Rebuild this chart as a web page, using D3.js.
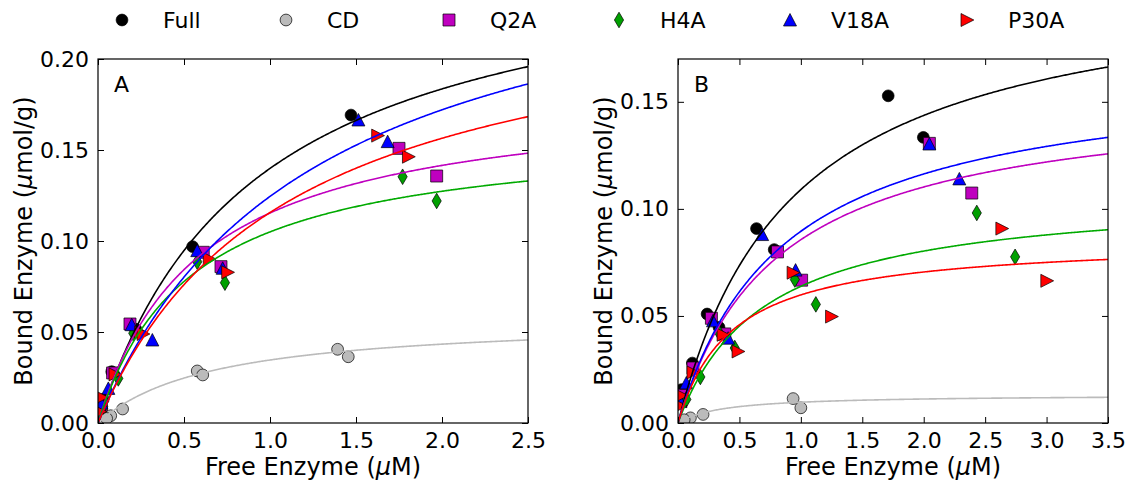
<!DOCTYPE html>
<html><head><meta charset="utf-8">
<script src="https://cdn.jsdelivr.net/npm/d3@7"></script>
<style>body{margin:0;background:#fff}svg{display:block;font-family:"DejaVu Sans",sans-serif}</style>
</head><body><svg id="c" width="1127" height="482"></svg>
<script>
const seriesNames = ["Full","CD","Q2A","H4A","V18A","P30A"];
const seriesColors = ["#000000","#bbbbbb","#bf00bf","#00a000","#0000ff","#ff0000"];
const lineColors = ["#000000","#bbbbbb","#bf00bf","#00aa00","#0000ff","#ff0000"];
const seriesShapes = ["circle","circle","square","diamond","triUp","triRight"];

// Panel A data
const A_Full_x = [1.471,0.550,0.080,0.220,0.030,0.010];
const A_Full_y = [0.1692,0.0969,0.0282,0.0515,0.0130,0.0050];
const A_CD_x = [1.393,1.455,0.577,0.609,0.143,0.074,0.050];
const A_CD_y = [0.0405,0.0364,0.0286,0.0264,0.0077,0.0040,0.0025];
const A_Q2A_x = [1.750,1.969,0.715,0.612,0.186,0.085,0.020];
const A_Q2A_y = [0.1509,0.1357,0.0859,0.0938,0.0544,0.0275,0.0100];
const A_H4A_x = [1.771,1.969,0.738,0.577,0.205,0.118,0.030];
const A_H4A_y = [0.1353,0.1220,0.0771,0.0886,0.0493,0.0245,0.0090];
const A_V18A_x = [1.514,1.684,0.577,0.725,0.196,0.316,0.060,0.020];
const A_V18A_y = [0.1665,0.1546,0.0947,0.0850,0.0540,0.0456,0.0190,0.0110];
const A_P30A_x = [1.626,1.805,0.647,0.754,0.248,0.262,0.099,0.021,0.012];
const A_P30A_y = [0.1579,0.1463,0.0901,0.0828,0.0498,0.0489,0.0267,0.0141,0.0062];
const A_Bmax = [0.267,0.0579,0.183,0.1617,0.2785,0.2417];
const A_Kd = [0.909,0.673,0.586,0.540,1.237,1.090];

// Panel B data
const B_Full_x = [1.711,1.997,0.639,0.783,0.237,0.334,0.117,0.030];
const B_Full_y = [0.1528,0.1334,0.0908,0.0810,0.0509,0.0447,0.0280,0.0156];
const B_CD_x = [0.937,1.000,0.204,0.101,0.050];
const B_CD_y = [0.0114,0.0071,0.0040,0.0024,0.0015];
const B_Q2A_x = [2.046,2.391,0.810,1.006,0.272,0.381,0.122,0.030];
const B_Q2A_y = [0.1306,0.1074,0.0799,0.0667,0.0489,0.0416,0.0257,0.0130];
const B_H4A_x = [2.432,2.744,1.122,0.951,0.462,0.334,0.182,0.068];
const B_H4A_y = [0.0981,0.0776,0.0554,0.0670,0.0350,0.0422,0.0215,0.0110];
const B_V18A_x = [2.046,2.290,0.685,0.957,0.285,0.408,0.068,0.020];
const B_V18A_y = [0.1303,0.1140,0.0880,0.0714,0.0477,0.0396,0.0187,0.0100];
const B_P30A_x = [2.636,3.002,1.250,0.937,0.489,0.367,0.122,0.028,0.020];
const B_P30A_y = [0.0908,0.0664,0.0497,0.0702,0.0334,0.0412,0.0236,0.0128,0.0080];
const B_Bmax = [0.2105,0.01326,0.1547,0.1082,0.1659,0.0859];
const B_Kd = [0.931,0.367,0.807,0.695,0.853,0.436];

const A_xTicks = [0,0.5,1.0,1.5,2.0,2.5];
const A_yTicks = [0,0.05,0.10,0.15,0.20];
const B_xTicks = [0,0.5,1.0,1.5,2.0,2.5,3.0,3.5];
const B_yTicks = [0,0.05,0.10,0.15];

const svg = d3.select("#c");
const defs = svg.append("defs");

function shapePath(s){
  switch(s){
    case "circle": return "M5.9,0A5.9,5.9,0,1,1,-5.9,0A5.9,5.9,0,1,1,5.9,0Z";
    case "square": return "M-6,-6H6V6H-6Z";
    case "diamond": return "M0,-7.8L4.6,0L0,7.8L-4.6,0Z";
    case "triUp": return "M0,-6.5L6.5,6L-6.5,6Z";
    case "triRight": return "M6.8,0L-6,-6.5L-6,6.5Z";
  }
}

function panel(cfg){
  const {left,right,top,bottom,xmax,ymax,xTicks,yTicks,xs,ys,bmax,kd,label,id} = cfg;
  const x = d3.scaleLinear().domain([0,xmax]).range([left,right]);
  const y = d3.scaleLinear().domain([0,ymax]).range([bottom,top]);
  const g = svg.append("g");
  defs.append("clipPath").attr("id","clip"+id).append("rect")
    .attr("x",left).attr("y",top).attr("width",right-left).attr("height",bottom-top);
  const plot = g.append("g").attr("clip-path","url(#clip"+id+")");
  const line = d3.line().x(d=>x(d[0])).y(d=>y(d[1]));
  const xsamp = d3.range(0,xmax+1e-9,xmax/400);
  seriesNames.forEach((n,i)=>{
    const pts = xs[i].map((v,j)=>[v,ys[i][j]]);
    plot.append("g").selectAll("path").data(pts).join("path")
      .attr("d",shapePath(seriesShapes[i]))
      .attr("transform",d=>`translate(${x(d[0])},${y(d[1])})`)
      .attr("fill",seriesColors[i]).attr("stroke","#000").attr("stroke-width",0.7);
  });
  seriesNames.forEach((n,i)=>{
    const curve = xsamp.map(v=>[v,bmax[i]*v/(kd[i]+v)]);
    plot.append("path").attr("d",line(curve)).attr("fill","none")
      .attr("stroke",lineColors[i]).attr("stroke-width",1.6);
  });
  const fmtX = d3.format(".1f"), fmtY = d3.format(".2f");
  const ax = g.append("g").attr("transform",`translate(0,${bottom})`)
    .call(d3.axisBottom(x).tickValues(xTicks).tickSize(-6).tickPadding(9).tickFormat(fmtX));
  const axT = g.append("g").attr("transform",`translate(0,${top})`)
    .call(d3.axisTop(x).tickValues(xTicks).tickSize(-6).tickFormat(""));
  const ay = g.append("g").attr("transform",`translate(${left},0)`)
    .call(d3.axisLeft(y).tickValues(yTicks).tickSize(-6).tickPadding(9).tickFormat(fmtY));
  const ayR = g.append("g").attr("transform",`translate(${right},0)`)
    .call(d3.axisRight(y).tickValues(yTicks).tickSize(-6).tickFormat(""));
  [ax,axT,ay,ayR].forEach(a=>{
    a.select(".domain").remove();
    a.selectAll("line").attr("stroke","#000").attr("stroke-width",1);
    a.selectAll("text").attr("font-size",22).attr("font-family","DejaVu Sans").attr("fill","#000");
  });
  g.append("rect").attr("x",left).attr("y",top).attr("width",right-left).attr("height",bottom-top)
    .attr("fill","none").attr("stroke","#000").attr("stroke-width",1.2);
  g.append("text").attr("x",left+16).attr("y",top+33).attr("font-size",22).text(label);
  const xl = g.append("text").attr("x",(left+right)/2).attr("y",475).attr("text-anchor","middle").attr("font-size",24);
  xl.append("tspan").text("Free Enzyme (");
  xl.append("tspan").attr("font-style","italic").text("μ");
  xl.append("tspan").text("M)");
  const yl = g.append("text").attr("transform",`translate(${left-66},${(top+bottom)/2}) rotate(-90)`)
    .attr("text-anchor","middle").attr("font-size",24);
  yl.append("tspan").text("Bound Enzyme (");
  yl.append("tspan").attr("font-style","italic").text("μ");
  yl.append("tspan").text("mol/g)");
}

panel({id:"A",left:98,right:528,top:59,bottom:423,xmax:2.5,ymax:0.20,xTicks:A_xTicks,yTicks:A_yTicks,
  xs:[A_Full_x,A_CD_x,A_Q2A_x,A_H4A_x,A_V18A_x,A_P30A_x],
  ys:[A_Full_y,A_CD_y,A_Q2A_y,A_H4A_y,A_V18A_y,A_P30A_y],bmax:A_Bmax,kd:A_Kd,label:"A"});
panel({id:"B",left:678,right:1108,top:59,bottom:423,xmax:3.5,ymax:0.17,xTicks:B_xTicks,yTicks:B_yTicks,
  xs:[B_Full_x,B_CD_x,B_Q2A_x,B_H4A_x,B_V18A_x,B_P30A_x],
  ys:[B_Full_y,B_CD_y,B_Q2A_y,B_H4A_y,B_V18A_y,B_P30A_y],bmax:B_Bmax,kd:B_Kd,label:"B"});

const legendX = [122,286,449,619,790,967];
const leg = svg.append("g");
seriesNames.forEach((n,i)=>{
  leg.append("path").attr("d",shapePath(seriesShapes[i])).attr("transform",`translate(${legendX[i]},20)`)
    .attr("fill",seriesColors[i]).attr("stroke","#000").attr("stroke-width",0.7);
  leg.append("text").attr("x",legendX[i]+41).attr("y",28).attr("font-size",22).text(n);
});
</script></body></html>
